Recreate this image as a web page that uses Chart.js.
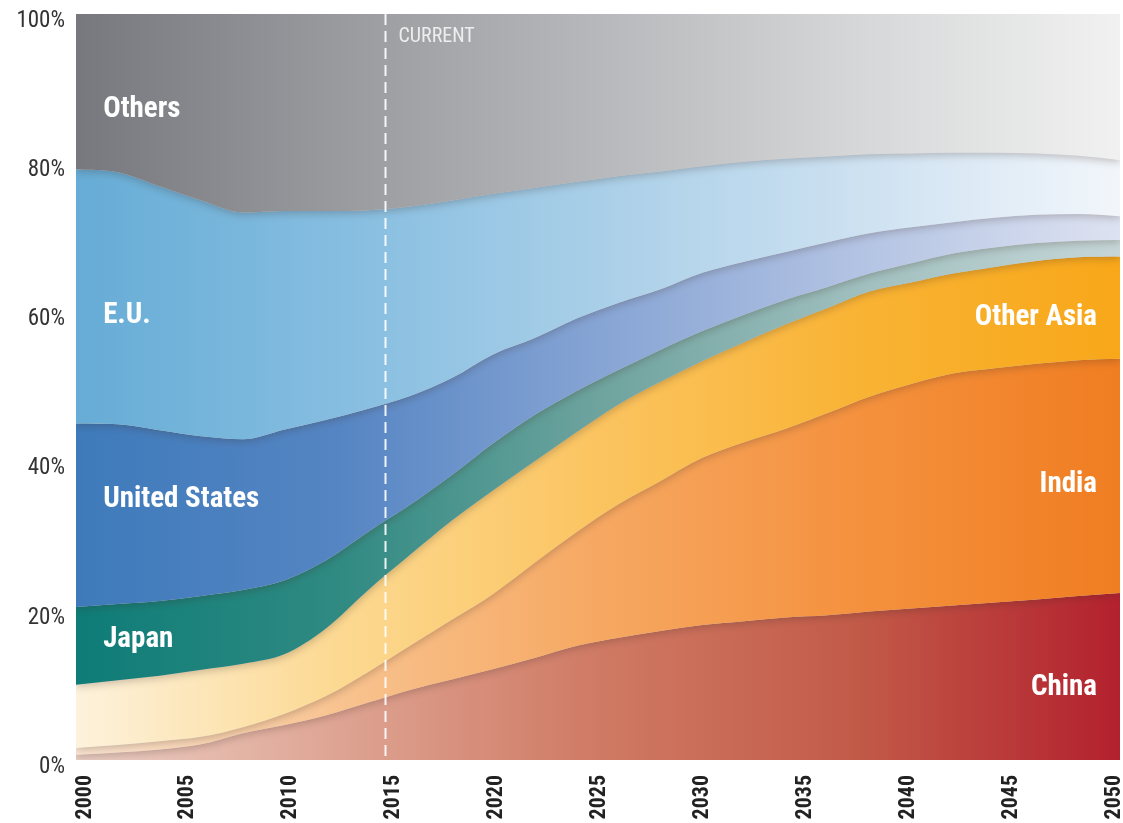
<!DOCTYPE html>
<html>
<head>
<meta charset="utf-8">
<script src="https://cdn.jsdelivr.net/npm/chart.js@4/dist/chart.umd.min.js"></script>
<style>
  html, body { margin: 0; padding: 0; background: #fff; }
  #wrap { width: 1123px; height: 823px; position: relative; }
</style>
</head>
<body>
<div id="wrap"><canvas id="myChart"></canvas></div>
<script>
// years on the x axis (every 2 years)
var years = [2000, 2002, 2004, 2006, 2008, 2010, 2012, 2014, 2016, 2018, 2020, 2022, 2024,
             2026, 2028, 2030, 2032, 2034, 2036, 2038, 2040, 2042, 2044, 2046, 2048, 2050];

// share of the total, percent
var china     = [0.7, 1.0, 1.4, 2.1, 3.6, 4.7, 6.0, 7.7, 9.4, 10.8, 12.2, 13.7, 15.3,
                 16.4, 17.3, 18.1, 18.6, 19.1, 19.4, 19.9, 20.3, 20.7, 21.1, 21.5, 22.0, 22.4];
var india     = [0.9, 1.0, 1.1, 1.0, 0.8, 1.5, 2.6, 4.1, 5.9, 8.0, 10.1, 12.8, 15.3,
                 17.9, 20.1, 22.4, 24.0, 25.3, 27.1, 28.8, 30.1, 31.1, 31.4, 31.6, 31.6, 31.4];
var otherAsia = [8.5, 8.7, 8.8, 9.0, 8.5, 8.0, 9.1, 11.0, 12.2, 13.3, 13.9, 13.6, 13.4,
                 13.4, 13.3, 13.0, 13.4, 14.0, 14.1, 14.1, 13.6, 13.4, 13.6, 13.8, 13.8, 13.7];
var japan     = [10.4, 10.2, 10.0, 9.9, 9.9, 9.9, 9.1, 7.8, 6.7, 6.1, 6.3, 6.2, 5.5,
                 4.6, 4.3, 4.0, 3.7, 3.3, 2.8, 2.4, 2.6, 2.7, 2.6, 2.4, 2.2, 2.2];
var unitedStates = [24.6, 24.1, 22.9, 21.4, 20.2, 20.2, 18.8, 16.5, 14.6, 13.0, 11.9, 10.3, 9.7,
                 9.0, 8.1, 7.8, 7.1, 6.4, 6.0, 5.4, 4.8, 4.2, 4.0, 3.8, 3.6, 3.2];
var eu        = [34.1, 33.8, 32.7, 31.6, 30.4, 29.3, 28.0, 26.6, 25.4, 23.8, 21.5, 20.1, 18.3,
                 17.0, 15.8, 14.3, 13.4, 12.5, 11.5, 10.6, 9.9, 9.3, 8.7, 8.2, 7.8, 7.5];
var others    = [20.8, 21.2, 23.1, 25.0, 26.6, 26.4, 26.4, 26.3, 25.8, 25.0, 24.1, 23.3, 22.5,
                 21.7, 21.1, 20.4, 19.8, 19.4, 19.1, 18.8, 18.7, 18.6, 18.6, 18.7, 19.0, 19.6];

var seriesNames = ["China", "India", "Other Asia", "Japan", "United States", "E.U.", "Others"];
var seriesValues = [china, india, otherAsia, japan, unitedStates, eu, others];

var currentYear = 2014.8;
var xTicks = [2000, 2005, 2010, 2015, 2020, 2025, 2030, 2035, 2040, 2045, 2050];
var yTicks = [0, 20, 40, 60, 80, 100];

// left-to-right colour ramps for each band
var ramps = [
    ["#ecd0c6", "#dea493", "#cf7a64", "#c25a48", "#b3212e"],
    ["#fbe6d3", "#f8c390", "#f6a862", "#f4913e", "#f07d21"],
    ["#fdf2dc", "#fcd992", "#fbc460", "#f9b334", "#f8a719"],
    ["#0e7c77", "#2f8a82", "#6ea39e", "#9fbfbe", "#c6d6d8"],
    ["#3e7aba", "#5585c3", "#86a4d4", "#b3c3e3", "#dde2f1"],
    ["#66acd6", "#85bde0", "#a9cfe8", "#cde1f1", "#f2f6fb"],
    ["#77787d", "#999a9e", "#b7b8bb", "#d6d7d8", "#f1f1f1"]
];

var condensed = "'Liberation Sans Narrow', 'Roboto Condensed', 'DejaVu Sans Condensed', 'Liberation Sans', sans-serif";

function makeGradient(context, ramp){
    var chart = context.chart;
    var area = chart.chartArea;
    if (!area) return ramp[0];
    var g = chart.ctx.createLinearGradient(area.left, 0, area.right, 0);
    for (var i = 0; i < ramp.length; i++) {
        g.addColorStop(i / (ramp.length - 1), ramp[i]);
    }
    return g;
}

// bands are drawn bottom first so each one can cast its shadow on the one below,
// so the stack is summed here instead of by the scale
var dataSet = new Array();
var running = years.map(function(){ return 0; });
for (var s = 0; s < seriesValues.length; s++) {
    var pts = new Array();
    for (var i = 0; i < years.length; i++) {
        running[i] += seriesValues[s][i];
        pts.push({x: years[i], y: running[i]});
    }
    (function(ramp){
        dataSet.push({
            label: seriesNames[s],
            data: pts,
            order: seriesValues.length - s,
            fill: s == 0 ? 'origin' : s - 1,
            borderWidth: 0,
            pointRadius: 0,
            cubicInterpolationMode: 'monotone',
            backgroundColor: function(ctx){ return makeGradient(ctx, ramp); }
        });
    })(ramps[s]);
}

// in-chart labels: [text, year anchor, baseline value, align]
var bandLabels = [
    ["Others", 2001.3, 86.2, "left"],
    ["E.U.", 2001.3, 58.6, "left"],
    ["United States", 2001.3, 33.9, "left"],
    ["Japan", 2001.3, 15.1, "left"],
    ["Other Asia", 2048.9, 58.3, "right"],
    ["India", 2048.9, 35.9, "right"],
    ["China", 2048.9, 8.7, "right"]
];

var annotations = {
    id: 'annotations',
    beforeDatasetsDraw: function(chart){
        var ctx = chart.ctx;
        ctx.save();
        ctx.shadowColor = "rgba(60,40,30,0.28)";
        ctx.shadowBlur = 9;
        ctx.shadowOffsetY = 2;
    },
    afterDatasetsDraw: function(chart){
        var ctx = chart.ctx;
        ctx.restore();
        var xs = chart.scales.x, ys = chart.scales.y;
        var area = chart.chartArea;
        ctx.save();
        // current year line
        var cx = Math.round(xs.getPixelForValue(currentYear)) + 0.5;
        ctx.strokeStyle = "rgba(255,255,255,0.9)";
        ctx.lineWidth = 2;
        ctx.setLineDash([11, 6]);
        ctx.beginPath();
        ctx.moveTo(cx, area.top);
        ctx.lineTo(cx, area.bottom);
        ctx.stroke();
        ctx.setLineDash([]);
        ctx.fillStyle = "#eeeeef";
        ctx.font = "20px " + condensed;
        ctx.textAlign = "left";
        ctx.textBaseline = "alphabetic";
        ctx.fillText("CURRENT", cx + 13, 42);
        // band names
        ctx.fillStyle = "#ffffff";
        ctx.font = "bold 29px " + condensed;
        for (var label of bandLabels) {
            ctx.textAlign = label[3];
            ctx.fillText(label[0], xs.getPixelForValue(label[1]), ys.getPixelForValue(label[2]));
        }
        ctx.restore();
    }
};

var ctx = document.getElementById("myChart").getContext('2d');
var shareChart = new Chart(ctx, {
    type: 'line',
    data: { datasets: dataSet },
    plugins: [annotations],
    options: {
        responsive: true,
        maintainAspectRatio: false,
        animation: false,
        layout: { padding: { top: 14, right: 3, left: 0, bottom: 0 } },
        plugins: { legend: { display: false }, tooltip: { enabled: false } },
        elements: { line: { tension: 0.3 } },
        scales: {
            x: {
                type: 'linear',
                min: 2000, max: 2050,
                display: false
            },
            // year labels sit on their own slightly narrower scale, as in the original
            years: {
                type: 'linear',
                position: 'bottom',
                min: 1999.56, max: 2050.29,
                grid: { display: false, drawTicks: false },
                border: { display: false },
                afterBuildTicks: function(scale){ scale.ticks = xTicks.map(function(v){ return {value: v}; }); },
                afterFit: function(scale){
                    scale.height = 63;
                    scale.paddingLeft = 0;
                    scale.paddingRight = 0;
                },
                ticks: {
                    autoSkip: false,
                    minRotation: 90, maxRotation: 90,
                    padding: 15,
                    color: "#222",
                    font: { family: condensed, size: 22, weight: 'bold' },
                    callback: function(v){ return String(v); }
                }
            },
            y: {
                min: 0, max: 100,
                grid: { display: false, drawTicks: false },
                border: { display: false },
                afterBuildTicks: function(scale){ scale.ticks = yTicks.map(function(v){ return {value: v}; }); },
                afterFit: function(scale){
                    scale.width = 76;
                    scale.paddingTop = 0;
                    scale.paddingBottom = 0;
                },
                ticks: {
                    padding: 11,
                    labelOffset: 7,
                    color: "#333",
                    font: { family: condensed, size: 23 },
                    callback: function(v){ return v + "%"; }
                }
            }
        }
    }
});
</script>
</body>
</html>
